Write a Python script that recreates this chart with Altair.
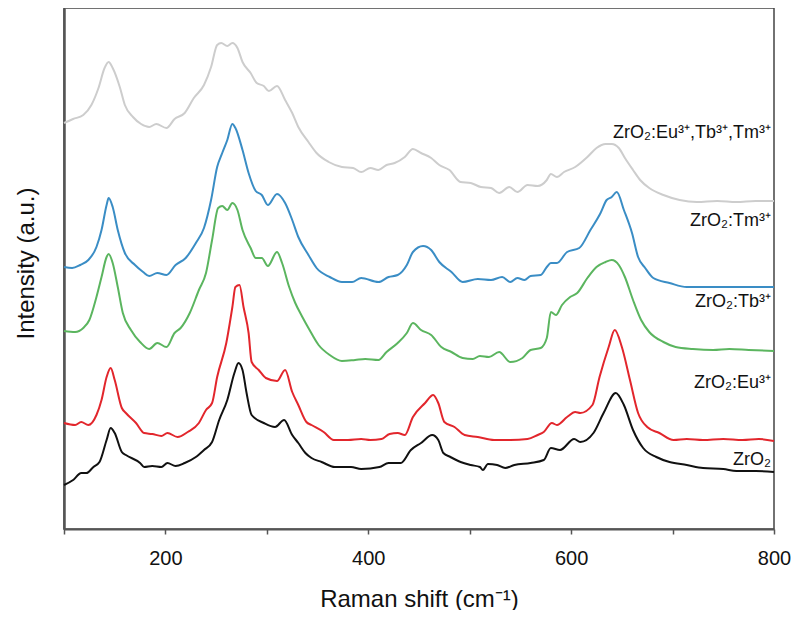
import altair as alt
import pandas as pd

# ---- data ----
series_names = ["ZrO2", "Eu", "Tb", "Tm", "EuTbTm"]

x_zro2 = [100,109,117,122,129,135,142,146,150,157,161,175,179,187,196,202,210,219,230,238,246,253,261,268,272,276,280,285,297,308,317,325,331,338,344,354,367,383,393,411,420,432,442,452,463,469,474,481,491,501,510,513,518,527,535,544,560,573,580,589,603,609,622,632,644,652,661,671,684,697,714,730,750,763,782,800]
y_zro2 = [44,49,56,56,62,67,89,101,96,77,74,66,62,63,62,66,63,66,72,79,87,109,129,156,166,159,136,114,106,102,109,94,86,76,71,67,62,62,60,62,66,66,79,86,94,89,76,72,67,64,62,59,65,64,61,64,66,69,81,79,90,87,96,116,136,124,99,81,72,67,64,61,60,58,58,57]

x_eu = [100,111,117,124,132,137,142,146,150,157,161,171,179,187,196,202,212,222,233,240,246,251,260,266,269,273,277,282,285,292,299,310,318,325,331,339,344,356,366,380,393,402,413,421,429,436,444,456,464,469,475,485,495,508,524,540,557,567,573,581,586,596,604,609,621,628,637,643,650,658,666,675,687,701,714,730,750,769,785,800]
y_eu = [106,104,107,104,114,129,152,161,149,121,116,106,96,95,93,96,92,97,106,119,126,152,186,222,242,244,222,196,167,159,151,148,159,137,124,107,104,97,89,89,90,89,90,95,96,94,112,126,134,126,107,102,94,92,89,89,90,94,97,106,104,112,117,116,124,152,182,199,182,149,116,102,96,89,90,89,90,89,90,88]

x_tb = [100,111,119,125,132,137,142,144,148,153,158,166,175,184,192,201,209,215,224,233,240,246,252,256,261,266,271,276,284,289,295,301,310,315,322,328,335,341,351,362,374,387,397,410,418,429,438,444,452,462,472,482,493,503,510,519,529,540,552,560,570,576,580,585,591,599,606,616,625,634,640,647,653,661,669,677,691,703,720,740,756,775,800]
y_tb = [198,197,201,209,232,252,272,275,266,242,216,199,187,180,186,182,196,201,216,239,256,289,321,323,319,326,319,299,281,271,271,263,277,266,242,226,212,201,184,174,168,169,170,169,177,186,196,206,199,194,182,177,171,170,173,172,177,167,171,179,181,191,217,214,224,232,236,251,262,267,269,264,252,229,209,197,187,182,180,179,180,179,178]

x_tm = [100,108,116,124,132,137,142,144,148,153,160,170,178,184,192,201,210,220,230,238,245,251,256,261,266,269,276,282,289,295,301,310,318,325,331,341,349,362,374,384,393,410,420,429,438,444,454,462,470,482,493,508,521,532,540,547,554,560,570,576,580,586,596,608,619,629,635,640,645,652,660,666,673,681,697,714,730,750,769,800]
y_tm = [262,261,264,269,282,299,324,331,322,299,276,264,257,253,256,254,264,271,286,301,329,362,376,389,405,401,379,356,338,334,324,335,326,309,292,274,261,252,247,247,251,247,252,254,264,277,283,279,267,257,247,250,249,252,247,251,249,253,254,262,266,266,277,281,299,316,329,332,337,319,296,272,261,251,246,242,242,242,242,242]

x_all = [100,109,119,127,134,140,144,148,155,160,168,176,184,191,201,209,219,228,238,245,251,255,261,266,271,276,284,290,297,302,310,318,325,331,341,349,361,374,385,393,402,410,418,426,436,444,452,462,470,480,491,501,511,521,529,539,547,557,567,576,580,586,593,604,616,625,634,640,647,653,661,668,677,691,707,724,744,763,782,800]
y_all = [406,410,414,424,441,461,467,461,442,424,412,405,402,405,401,410,416,431,444,462,484,486,483,486,481,467,456,446,443,438,443,429,416,402,387,376,367,362,361,357,361,359,364,366,372,380,376,371,364,359,347,346,342,341,336,342,337,344,343,349,355,352,357,362,372,381,385,385,381,371,359,349,341,334,329,327,328,327,328,328]

series_colors = ["#111111", "#E2262C", "#5BB55F", "#3A8DC5", "#CDCDCD"]

label_texts = ["ZrO₂", "ZrO₂:Eu³⁺", "ZrO₂:Tb³⁺", "ZrO₂:Tm³⁺", "ZrO₂:Eu³⁺,Tb³⁺,Tm³⁺"]
label_x = [797, 797, 797, 797, 797]
label_y = [69, 146, 227, 308, 396]

x_ticks = [100, 200, 300, 400, 500, 600, 700, 800]

# ---- build table ----
rows = []
for name, xs, ys in zip(series_names,
                        [x_zro2, x_eu, x_tb, x_tm, x_all],
                        [y_zro2, y_eu, y_tb, y_tm, y_all]):
    for xv, yv in zip(xs, ys):
        rows.append({"series": name, "x": xv, "y": yv})
df = pd.DataFrame(rows)

labels_df = pd.DataFrame({"text": label_texts, "x": label_x, "y": label_y})

FONT = "Liberation Sans"

x_scale = alt.Scale(domain=[100, 800], nice=False, zero=False)
y_scale = alt.Scale(domain=[0, 521], nice=False, zero=False)

x_axis = alt.Axis(
    values=x_ticks,
    labelExpr="datum.value % 200 == 0 ? datum.label : ''",
    labelFlush=False,
    grid=False,
    tickSize=5, tickColor="#555555", tickWidth=1.5,
    domainColor="#555555", domainWidth=2,
    labelFont=FONT, labelFontSize=20, labelColor="#111111", labelPadding=14,
    title="Raman shift (cm⁻¹)",
    titleFont=FONT, titleFontSize=24, titleFontWeight="normal", titleColor="#111111",
    titleBaseline="alphabetic", titleY=77,
)
y_axis = alt.Axis(
    labels=False, ticks=False, grid=False,
    domainColor="#555555", domainWidth=2.5,
    title="Intensity (a.u.)",
    titleFont=FONT, titleFontSize=24, titleFontWeight="normal", titleColor="#111111",
    titleAngle=270, titleAlign="center", titleBaseline="alphabetic",
    titleX=-31, titleY=255,
)

lines = alt.Chart(df).mark_line(strokeWidth=2, interpolate="monotone").encode(
    x=alt.X("x:Q", scale=x_scale, axis=x_axis),
    y=alt.Y("y:Q", scale=y_scale, axis=y_axis),
    color=alt.Color("series:N", scale=alt.Scale(domain=series_names, range=series_colors), legend=None),
    detail="series:N",
)

labels = alt.Chart(labels_df).mark_text(
    align="right", baseline="middle", font=FONT, fontSize=18, color="#111111"
).encode(
    x=alt.X("x:Q", scale=x_scale),
    y=alt.Y("y:Q", scale=y_scale),
    text="text:N",
)

chart = alt.layer(lines, labels).properties(
    width=710, height=521,
    autosize=alt.AutoSizeParams(type="none"),
    padding={"left": 56, "top": 0, "right": 17, "bottom": 81},
).configure_view(stroke="#444444", strokeWidth=1.5)

chart.save("out.html", embed_options={"renderer": "svg", "actions": False})
